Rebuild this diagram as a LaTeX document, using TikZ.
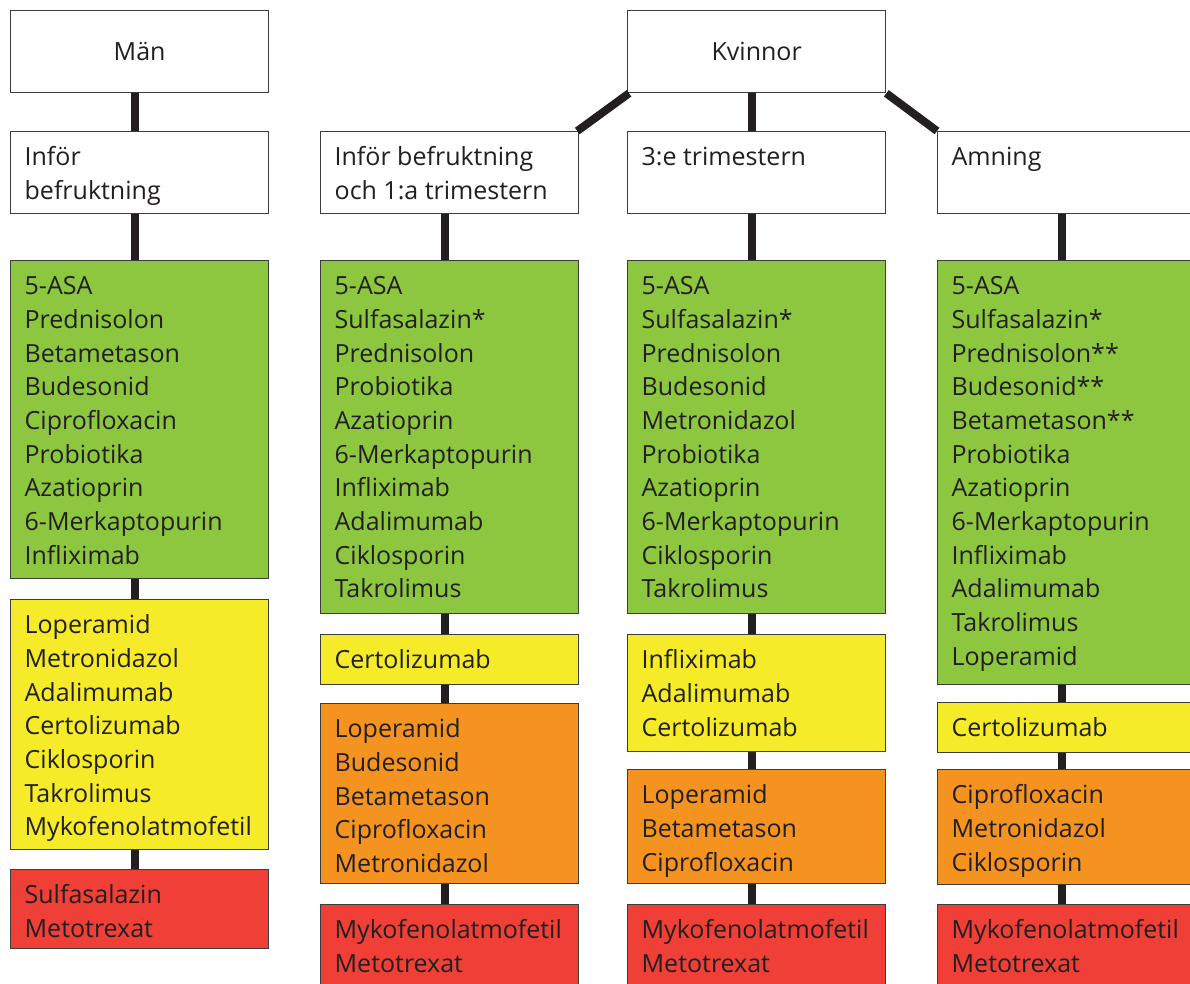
\documentclass[tikz,border=0pt]{standalone}
\usepackage{fontspec}
\setmainfont{Open Sans}
\definecolor{cgreen}{RGB}{141,198,63}
\definecolor{cyellow}{RGB}{245,235,41}
\definecolor{corange}{RGB}{244,147,31}
\definecolor{cred}{RGB}{239,63,54}
\definecolor{boxline}{RGB}{60,60,60}
\definecolor{connline}{RGB}{35,31,32}
\newcommand{\bxt}[2]{\parbox[c][#1pt][t]{230pt}{\rule{0pt}{34pt}#2\rule[-14pt]{0pt}{14pt}}}
\begin{document}
\begin{tikzpicture}[x=1pt,y=-1pt,
  box/.style={draw=boxline, line width=1.3pt, anchor=north west, inner xsep=14pt, inner ysep=0pt,
    font=\fontsize{25}{33.7}\selectfont, text=connline},
  hdr/.style={draw=boxline, line width=1.3pt, fill=white, anchor=north west, minimum width=258pt,
    minimum height=82pt, inner sep=0pt, font=\fontsize{25}{33.7}\selectfont, text=connline},
  conn/.style={draw=connline, line width=8pt}]
\useasboundingbox (0,0) rectangle (1190,983);
\clip (0,0) rectangle (1190,983);
% top headers
\node[hdr] (man) at (10,10) {Män};
\node[hdr] (kv) at (627,10) {Kvinnor};
% second row headers
\node[box, fill=white] (h1) at (10,131) {\bxt{82}{Inför\\befruktning}};
\node[box, fill=white] (h2) at (320,131) {\bxt{82}{Inför befruktning\\och 1:a trimestern}};
\node[box, fill=white] (h3) at (627,131) {\bxt{82}{3:e trimestern}};
\node[box, fill=white] (h4) at (937,131) {\bxt{82}{Amning}};
% column 1
\node[box, fill=cgreen] (g1) at (10,260) {\bxt{318}{5-ASA\\Prednisolon\\Betametason\\Budesonid\\Ciprofloxacin\\Probiotika\\Azatioprin\\6-Merkaptopurin\\Infliximab}};
\node[box, fill=cyellow] (y1) at (10,599) {\bxt{250}{Loperamid\\Metronidazol\\Adalimumab\\Certolizumab\\Ciklosporin\\Takrolimus\\Mykofenolatmofetil}};
\node[box, fill=cred] (r1) at (10,869) {\bxt{79}{Sulfasalazin\\Metotrexat}};
% column 2
\node[box, fill=cgreen] (g2) at (320,260) {\bxt{353}{5-ASA\\Sulfasalazin*\\Prednisolon\\Probiotika\\Azatioprin\\6-Merkaptopurin\\Infliximab\\Adalimumab\\Ciklosporin\\Takrolimus}};
\node[box, fill=cyellow] (y2) at (320,634) {\bxt{50}{Certolizumab}};
\node[box, fill=corange] (o2) at (320,703) {\bxt{180}{Loperamid\\Budesonid\\Betametason\\Ciprofloxacin\\Metronidazol}};
\node[box, fill=cred] (r2) at (320,904) {\bxt{100}{Mykofenolatmofetil\\Metotrexat}};
% column 3
\node[box, fill=cgreen] (g3) at (627,260) {\bxt{353}{5-ASA\\Sulfasalazin*\\Prednisolon\\Budesonid\\Metronidazol\\Probiotika\\Azatioprin\\6-Merkaptopurin\\Ciklosporin\\Takrolimus}};
\node[box, fill=cyellow] (y3) at (627,634) {\bxt{117}{Infliximab\\Adalimumab\\Certolizumab}};
\node[box, fill=corange] (o3) at (627,769) {\bxt{114}{Loperamid\\Betametason\\Ciprofloxacin}};
\node[box, fill=cred] (r3) at (627,904) {\bxt{100}{Mykofenolatmofetil\\Metotrexat}};
% column 4
\node[box, fill=cgreen] (g4) at (937,260) {\bxt{424}{5-ASA\\Sulfasalazin*\\Prednisolon**\\Budesonid**\\Betametason**\\Probiotika\\Azatioprin\\6-Merkaptopurin\\Infliximab\\Adalimumab\\Takrolimus\\Loperamid}};
\node[box, fill=cyellow] (y4) at (937,702) {\bxt{50}{Certolizumab}};
\node[box, fill=corange] (o4) at (937,769) {\bxt{115}{Ciprofloxacin\\Metronidazol\\Ciklosporin}};
\node[box, fill=cred] (r4) at (937,904) {\bxt{100}{Mykofenolatmofetil\\Metotrexat}};
% connectors
\foreach \a/\b in {man/h1,h1/g1,g1/y1,y1/r1,kv/h3,h2/g2,g2/y2,y2/o2,o2/r2,h3/g3,g3/y3,y3/o3,o3/r3,h4/g4,g4/y4,y4/o4,o4/r4}
  \draw[conn] ([xshift=-4.5pt]\a.south) -- ([xshift=-4.5pt]\b.north);
\draw[conn] ([xshift=2pt]kv.south west) -- ([xshift=-2pt]h2.north east);
\draw[conn] (kv.south east) -- (h4.north west);
\end{tikzpicture}
\end{document}
